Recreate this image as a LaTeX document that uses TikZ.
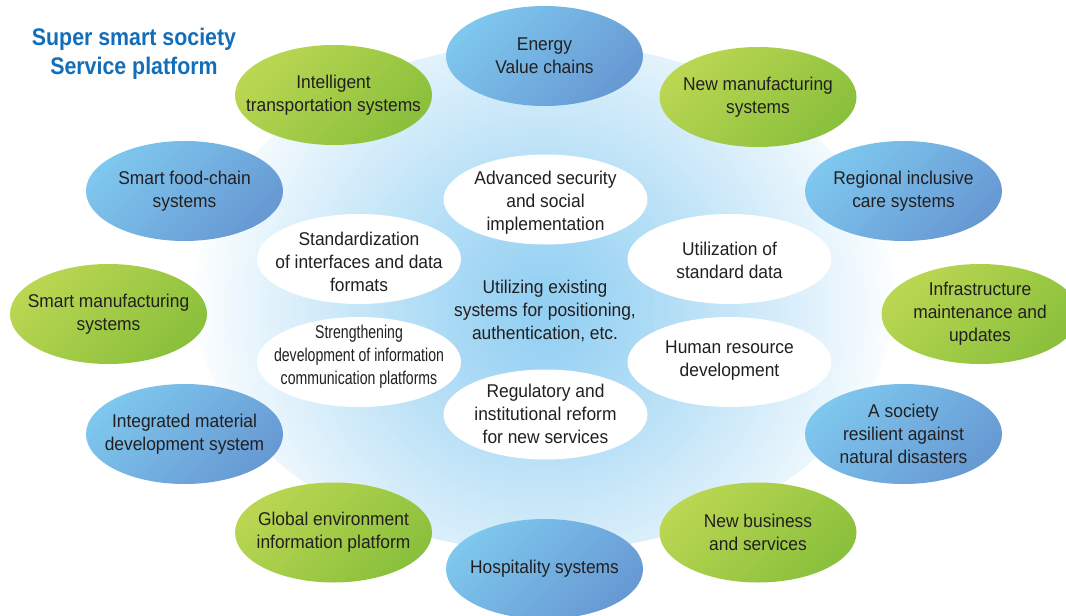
\documentclass[tikz,border=0pt]{standalone}
\usepackage{fontspec}
\setmainfont{Liberation Sans}[FakeStretch=0.94]
\newfontfamily\titlefont{Liberation Sans}[FakeStretch=0.89]
\usetikzlibrary{shapes.geometric}
\definecolor{ink}{RGB}{35,31,32}
\definecolor{titleblue}{RGB}{18,110,184}
\definecolor{bluetop}{RGB}{126,199,238}
\definecolor{bluebot}{RGB}{103,153,211}
\definecolor{greentop}{RGB}{186,214,82}
\definecolor{greenbot}{RGB}{138,192,60}
\definecolor{g0}{RGB}{145,207,242}
\tikzset{
  ball/.style={ellipse, minimum width=197pt, minimum height=100pt, inner sep=0pt, draw=none},
  blueball/.style={ball, top color=bluetop, bottom color=bluebot, shading angle=45},
  greenball/.style={ball, top color=greentop, bottom color=greenbot, shading angle=45},
  whiteball/.style={ellipse, minimum width=204pt, minimum height=90pt, inner sep=0pt, draw=none, fill=white},
  txt/.style={align=center, inner sep=0pt, text=ink, font=\fontsize{18.5}{23}\selectfont},
  titletxt/.style={align=center, inner sep=0pt, text=titleblue, font=\titlefont\bfseries\fontsize{24}{29}\selectfont}
}
\begin{document}
\begin{tikzpicture}[x=1pt, y=-1pt]
\useasboundingbox (0,0) rectangle (1066,616);
% background glow
\begin{scope}
  \clip (544.5,297) ellipse [x radius=350pt, y radius=254pt];
  \foreach \i in {0,...,71} {
    \pgfmathsetmacro\t{1-\i/72}
    \pgfmathsetmacro\p{100*(1-\t^1.15)}
    \fill[g0!\p!white] (544.5,310) circle [radius=360pt*\t];
  }
\end{scope}
% title
\node[titletxt] (title) at (134,54) {Super smart society\\Service platform};
% outer ring
\node[blueball]  (energy)     at (544.5,56)  {};
\node[greenball] (newmfg)     at (758,97)    {};
\node[blueball]  (regional)   at (903.5,191) {};
\node[greenball] (infra)      at (980,314)   {};
\node[blueball]  (society)    at (903.5,434) {};
\node[greenball] (newbiz)     at (758,532.5) {};
\node[blueball]  (hosp)       at (544.5,569) {};
\node[greenball] (global)     at (333.5,532.5) {};
\node[blueball]  (integrated) at (184.5,434) {};
\node[greenball] (smartmfg)   at (108.5,314) {};
\node[blueball]  (food)       at (184.5,191) {};
\node[greenball] (its)        at (333.5,95)  {};
\node[txt] (energy-t)     at (energy)     {Energy\\Value chains};
\node[txt] (newmfg-t)     at (newmfg)     {New manufacturing\\systems};
\node[txt] (regional-t)   at (regional)   {Regional inclusive\\care systems};
\node[txt] (infra-t)      at (infra)      {Infrastructure\\maintenance and\\updates};
\node[txt] (society-t)    at (society)    {A society\\resilient against\\natural disasters};
\node[txt] (newbiz-t)     at (newbiz)     {New business\\and services};
\node[txt] (hosp-t)       at (hosp)       {Hospitality systems};
\node[txt] (global-t)     at (global)     {Global environment\\information platform};
\node[txt] (integrated-t) at (integrated) {Integrated material\\development system};
\node[txt] (smartmfg-t)   at (smartmfg)   {Smart manufacturing\\systems};
\node[txt] (food-t)       at (food)       {Smart food-chain\\systems};
\node[txt] (its-t)        at (its)        {Intelligent\\transportation systems};
% inner ring
\node[whiteball] (adv)  at (545.5,199.5) {};
\node[whiteball] (std)  at (359,259)     {};
\node[whiteball] (util) at (729.5,259)   {};
\node[whiteball] (str)  at (359,362)     {};
\node[whiteball] (hr)   at (729.5,362)   {};
\node[whiteball] (reg)  at (545.5,414.5) {};
\node[txt] (adv-t)  at (545.5,203) {Advanced security\\and social\\implementation};
\node[txt] (std-t)  at (359,262)   {Standardization\\of interfaces and data\\formats};
\node[txt] (util-t) at (729.5,260.5) {Utilization of\\standard data};
\node[txt] (str-t)  at (359,357)   {\scalebox{0.81}[1]{\begin{tabular}{@{}c@{}}Strengthening\\development of information\\communication platforms\end{tabular}}};
\node[txt] (hr-t)   at (729.5,361) {Human resource\\development};
\node[txt] (reg-t)  at (545.5,414) {Regulatory and\\institutional reform\\for new services};
\node[txt] (center) at (545,311)   {Utilizing existing\\systems for positioning,\\authentication, etc.};
\end{tikzpicture}
\end{document}
